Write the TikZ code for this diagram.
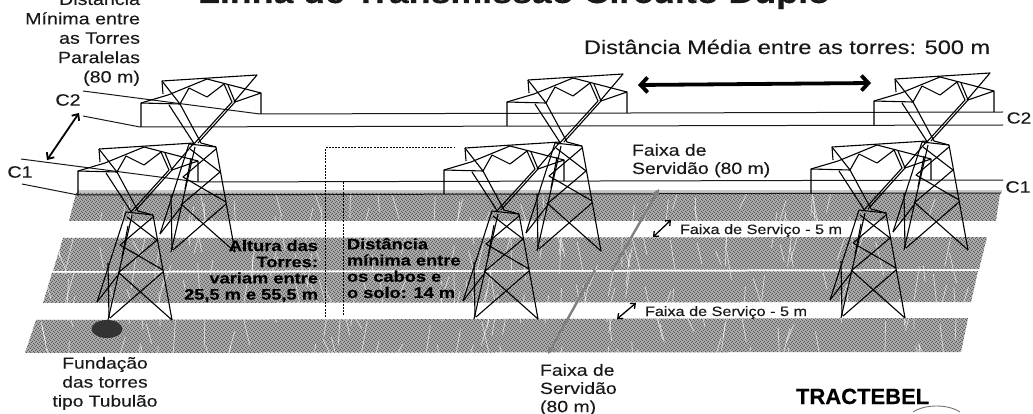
\documentclass[tikz,border=0pt]{standalone}
\usepackage{fontspec}
\setmainfont{Liberation Sans}[FakeStretch=1.2,FakeBold=0.25,BoldFeatures={FakeStretch=1.2,FakeBold=0.35}]
\newfontfamily\plainsans{Liberation Sans}[FakeStretch=1.0,FakeBold=0.3]
\usetikzlibrary{arrows.meta,patterns}
\pgfdeclarepatternformonly{stip}{\pgfqpoint{-0.1pt}{-0.1pt}}{\pgfqpoint{4.1pt}{4.1pt}}{\pgfqpoint{4pt}{4pt}}{%
  \pgfpathrectangle{\pgfqpoint{0pt}{0pt}}{\pgfqpoint{1pt}{1pt}}
  \pgfpathrectangle{\pgfqpoint{2pt}{1pt}}{\pgfqpoint{1pt}{1pt}}
  \pgfpathrectangle{\pgfqpoint{1pt}{2pt}}{\pgfqpoint{1pt}{1pt}}
  \pgfpathrectangle{\pgfqpoint{3pt}{3pt}}{\pgfqpoint{1pt}{1pt}}
  \pgfusepath{fill}}
\newcommand{\fsz}[1]{\fontsize{#1}{#1}\selectfont}
\definecolor{bandgray}{gray}{0.70}
\tikzset{
  x=1pt,y=-1pt,
  twr/.style={line width=1.1pt,black,line join=round},
  cable/.style={line width=1pt,black!90},
  dashln/.style={line width=1pt,black,dash pattern=on 2pt off 1.2pt},
  lab/.style={inner sep=0pt,outer sep=0pt,text=black!90},
  boldlab/.style={lab,font=\bfseries\fsz{15.2},text=black},
  gaid/.style={line width=2.4pt,black!50,-{Stealth[length=8pt,width=8pt]}},
  dblthin/.style={line width=1.3pt,black,{Straight Barb[length=4pt,width=7pt]}-{Straight Barb[length=4pt,width=7pt]}},
  tower/.pic={
    \draw[twr] (0,24)--(0,0)--(27,-8)--(66,-24)--(120,-10)--(120,11);
    \draw[twr] (21,-22)--(116,-28)--(93,-1);
    \draw[twr] (21,-22)--(22,-9);
    \draw[twr] (21,-22)--(39,1)--(48,-15)--(66,-6)--(83,-19)--(91,-1);
    \draw[twr] (87,-18)--(94,-1)--(120,-10);
    \draw[twr] (0,0)--(39,1);
    \draw[twr] (28,2)--(54,42);
    \draw[twr] (39,1)--(60,40)--(75,44);
    \draw[twr] (94,-1)--(57,40);
    \draw[twr] (91,-1)--(52,42);
    \draw[twr] (48,41)--(75,44);
    \draw[twr] (48,41)--(19,131);
    \draw[twr] (54,44)--(30,149);
    \draw[twr] (75,44)--(94,149);
    \draw[twr] (49,46)--(79,69)--(40,102);
    \draw[twr] (75,46)--(42,74)--(85,99);
    \draw[twr] (40,101)--(94,149);
    \draw[twr] (85,101)--(32,147);
    \draw[twr] (30,92)--(31,147);
    \draw[twr] (19,131)--(40,104);
    \draw[twr] (50,55)--(44,86);
  }
}
\begin{document}
\begin{tikzpicture}
\useasboundingbox (0,0) rectangle (1033,414);
% ground bands
\def\bands{
  (76,193)--(1000,193)--(996,221)--(69,221)--cycle
  (63,238)--(987,237)--(979,269)--(53,271)--cycle
  (52,273)--(978,271)--(971,302)--(43,303)--cycle
  (36,320)--(968,318)--(961,352)--(25,353)--cycle}
\fill[black!22] (77,190) rectangle (1002,193);
\fill[bandgray] \bands;
\fill[pattern=stip,pattern color=black!65] \bands;
\begin{scope}
  \clip \bands;
  \pgfmathsetseed{41}
  \foreach \i in {1,...,260}{
    \pgfmathsetmacro{\xa}{20+rnd*990}
    \pgfmathsetmacro{\ya}{190+rnd*165}
    \pgfmathsetmacro{\dx}{-9+rnd*18}
    \pgfmathsetmacro{\dy}{14+rnd*22}
    \draw[white,opacity=0.6,line width=0.8pt] (\xa,\ya)--++(\dx,\dy);
  }
\end{scope}
% cables
\coordinate (c2uL) at (83,91);
\coordinate (c2uA) at (260,114);
\coordinate (c2uR) at (1003,112);
\coordinate (c2lL) at (83,116);
\coordinate (c2lA) at (140,127);
\coordinate (c2lR) at (1003,125);
\coordinate (c1uL) at (21,159);
\coordinate (c1uA) at (198,182);
\coordinate (c1uR) at (1003,180);
\coordinate (c1lL) at (22,184);
\coordinate (c1lA) at (78,195);
\coordinate (c1lR) at (1001,193);
\draw[cable] (c2uL)--(c2uA)--(c2uR);
\draw[cable] (c2lL)--(c2lA)--(c2lR);
\draw[cable] (c1uL)--(c1uA)--(c1uR);
\draw[cable] (c1lL)--(c1lA)--(c1lR);
% towers
\pic at (141,103) {tower};
\pic at (507,102) {tower};
\pic at (874,101) {tower};
\pic at (78,171) {tower};
\pic at (444,170) {tower};
\pic at (811,169) {tower};
% foundation
\fill[black!80] (107,329) ellipse [x radius=15.5,y radius=9];
% dashed
\coordinate (da) at (325,317);
\coordinate (db) at (325,148);
\coordinate (dc) at (454,148);
\coordinate (dd) at (343,182);
\coordinate (de) at (343,315);
\draw[dashln] (da)--(db)--(dc);
\draw[dashln] (dd)--(de);
% arrows
\coordinate (wa) at (47,160);
\coordinate (wb) at (79,113);
\draw[line width=1.8pt,black,{Straight Barb[length=5pt,width=9pt]}-{Straight Barb[length=5pt,width=9pt]}] (wa)--(wb);
\coordinate (ba) at (638,85);
\coordinate (bb) at (871,83);
\draw[line width=3.8pt,black,{Straight Barb[length=7pt,width=15pt]}-{Straight Barb[length=7pt,width=15pt]}] (ba)--(bb);
\coordinate (sa) at (653,237);
\coordinate (sb) at (671,220);
\draw[dblthin] (sa)--(sb);
\coordinate (ta) at (617,319);
\coordinate (tb) at (636,303);
\draw[dblthin] (ta)--(tb);
\coordinate (ga) at (612,271);
\coordinate (gb) at (659,189);
\draw[gaid] (ga)--(gb);
\coordinate (gc) at (595,270);
\coordinate (gd) at (548,354);
\draw[gaid] (gc)--(gd);
% labels
\node[lab,anchor=base west,font=\bfseries\fsz{29.8}] (title) at (198,3) {Linha de Transmissão Circuito Duplo};
\node[lab,anchor=north east,align=right,font=\fsz{16.4}] (dmin) at (140,-7) {Distância\\[3pt]Mínima entre\\[3pt]as Torres\\[3pt]Paralelas\\[3pt](80 m)};
\node[lab,font=\fsz{16.4}] (c2l) at (68,100) {C2};
\node[lab,font=\fsz{16.4}] (c1l) at (20,172) {C1};
\node[lab,font=\fsz{16}] (c2r) at (1019,118) {C2};
\node[lab,font=\fsz{16.4}] (c1r) at (1018,187) {C1};
\node[lab,anchor=base west,font=\fsz{19.6}] (dmed) at (584,54) {Distância Média entre as torres: 500 m};
\node[lab,anchor=north west,align=left,font=\fsz{16.2}] (fs1) at (632,144) {Faixa de\\[2pt]Servidão (80 m)};
\node[lab,anchor=base west,font=\fsz{13.5}] (fsv1) at (680,234) {Faixa de Serviço - 5 m};
\node[lab,anchor=base west,font=\fsz{13.5}] (fsv2) at (645,316) {Faixa de Serviço - 5 m};
\node[boldlab,anchor=north east,align=right] (alt) at (318,240) {Altura das\\[1pt]Torres:\\[1pt]variam entre\\[1pt]25,5 m e 55,5 m};
\node[boldlab,anchor=north west,align=left] (dist) at (347,238) {Distância\\[1pt]mínima entre\\[1pt]os cabos e\\[1pt]o solo: 14 m};
\node[lab,anchor=north,align=center,font=\fsz{16}] (fund) at (105,357) {Fundação\\[3pt]das torres\\[3pt]tipo Tubulão};
\node[lab,anchor=north west,align=left,font=\fsz{16.2}] (fs2) at (540,364) {Faixa de\\[2pt]Servidão\\[2pt](80 m)};
\node[lab,anchor=base west,font=\plainsans\bfseries\fsz{22},text=black] (tb) at (796,404) {TRACTEBEL};
\coordinate (ar1) at (913,412);
\coordinate (ar2) at (960,412);
\draw[black!55,line width=0.9pt] (ar1) .. controls (925,404) and (948,404) .. (ar2);
\end{tikzpicture}
\end{document}
